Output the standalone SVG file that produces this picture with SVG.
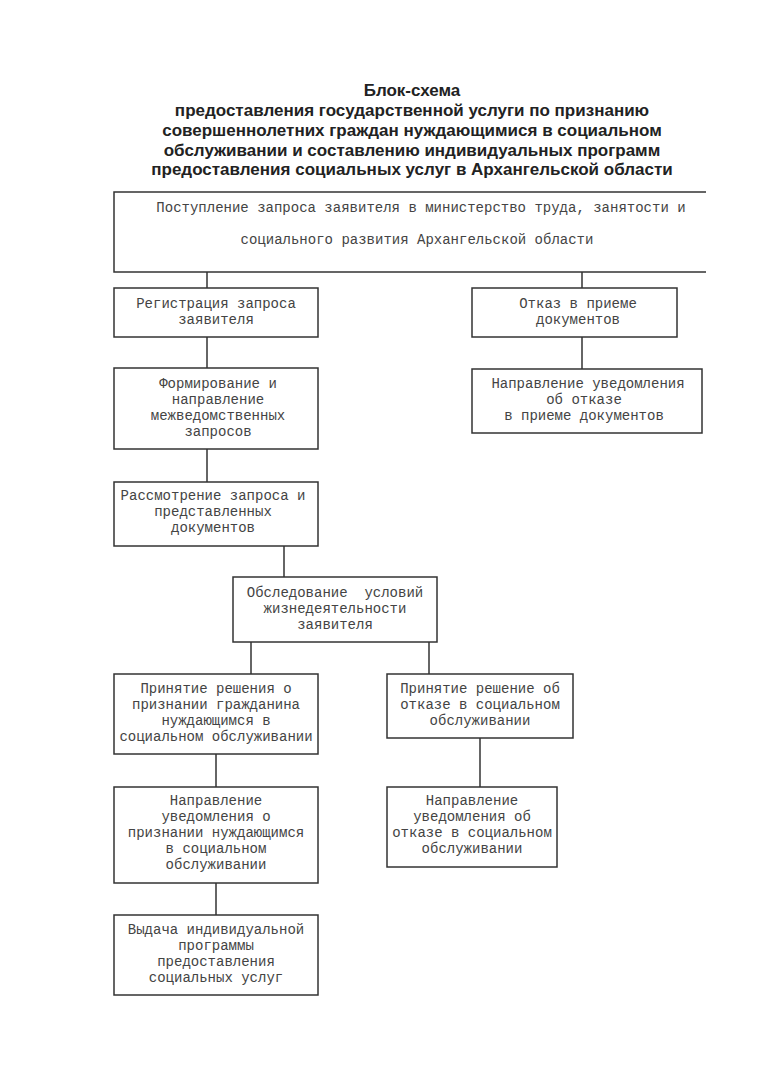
<svg xmlns="http://www.w3.org/2000/svg" width="768" height="1086" viewBox="0 0 768 1086">
<style>
.bg{fill:#ffffff}
.title{font-family:"Liberation Sans",Arial,sans-serif;font-weight:bold;font-size:17px;fill:#222;text-anchor:middle}
.box{fill:none;stroke:#333;stroke-width:1.5}
.t{font-family:"Liberation Mono","Courier New",monospace;font-size:14px;fill:#444;text-anchor:middle;white-space:pre}
.c{fill:none;stroke:#333;stroke-width:1.5}
</style>
<rect class="bg" x="0" y="0" width="768" height="1086"/>
<g id="title">
<text class="title" x="412" y="96">Блок-схема</text>
<text class="title" x="412" y="116">предоставления государственной услуги по признанию</text>
<text class="title" x="412" y="136">совершеннолетних граждан нуждающимися в социальном</text>
<text class="title" x="412" y="156">обслуживании и составлению индивидуальных программ</text>
<text class="title" x="412" y="175">предоставления социальных услуг в Архангельской области</text>
</g>
<g id="connectors">
<path class="c" d="M207,272 V288"/>
<path class="c" d="M582,272 V288"/>
<path class="c" d="M207,337 V368"/>
<path class="c" d="M582,337 V369"/>
<path class="c" d="M207,449 V482"/>
<path class="c" d="M284,546 V577"/>
<path class="c" d="M251,642 V674"/>
<path class="c" d="M429,642 V674"/>
<path class="c" d="M216,754 V787"/>
<path class="c" d="M480,738 V787"/>
<path class="c" d="M216,883 V915"/>
</g>
<g id="n-receipt">
<path class="box" d="M706,192 H114 V272 H706"/>
<text class="t" x="421" y="212">Поступление запроса заявителя в министерство труда, занятости и</text>
<text class="t" x="417" y="244">социального развития Архангельской области</text>
</g>
<g id="n-registration">
<rect class="box" x="114" y="288" width="204" height="49"/>
<text class="t" x="216" y="308">Регистрация запроса</text>
<text class="t" x="216" y="324">заявителя</text>
</g>
<g id="n-refusal">
<rect class="box" x="472" y="288" width="205" height="49"/>
<text class="t" x="578" y="308">Отказ в приеме</text>
<text class="t" x="578" y="324">документов</text>
</g>
<g id="n-forming">
<rect class="box" x="114" y="368" width="204" height="81"/>
<text class="t" x="218" y="388">Формирование и</text>
<text class="t" x="218" y="404">направление</text>
<text class="t" x="218" y="420">межведомственных</text>
<text class="t" x="218" y="436">запросов</text>
</g>
<g id="n-refusal-notice">
<rect class="box" x="472" y="369" width="230" height="64"/>
<text class="t" x="588" y="388">Направление уведомления</text>
<text class="t" x="584" y="404">об отказе</text>
<text class="t" x="584" y="420">в приеме документов</text>
</g>
<g id="n-review">
<rect class="box" x="114" y="482" width="204" height="64"/>
<text class="t" x="213" y="500">Рассмотрение запроса и</text>
<text class="t" x="213" y="516">представленных</text>
<text class="t" x="213" y="532">документов</text>
</g>
<g id="n-survey">
<rect class="box" x="233" y="577" width="204" height="65"/>
<text class="t" x="335" y="597">Обследование  условий</text>
<text class="t" x="335" y="613">жизнедеятельности</text>
<text class="t" x="335" y="629">заявителя</text>
</g>
<g id="n-decision-yes">
<rect class="box" x="114" y="674" width="204" height="80"/>
<text class="t" x="216" y="693">Принятие решения о</text>
<text class="t" x="216" y="709">признании гражданина</text>
<text class="t" x="216" y="725">нуждающимся в</text>
<text class="t" x="216" y="741">социальном обслуживании</text>
</g>
<g id="n-decision-no">
<rect class="box" x="387" y="674" width="186" height="64"/>
<text class="t" x="480" y="693">Принятие решение об</text>
<text class="t" x="480" y="709">отказе в социальном</text>
<text class="t" x="480" y="725">обслуживании</text>
</g>
<g id="n-notice-yes">
<rect class="box" x="114" y="787" width="204" height="96"/>
<text class="t" x="216" y="805">Направление</text>
<text class="t" x="216" y="821">уведомления о</text>
<text class="t" x="216" y="837">признании нуждающимся</text>
<text class="t" x="216" y="853">в социальном</text>
<text class="t" x="216" y="869">обслуживании</text>
</g>
<g id="n-notice-no">
<rect class="box" x="387" y="787" width="170" height="80"/>
<text class="t" x="472" y="805">Направление</text>
<text class="t" x="472" y="821">уведомления об</text>
<text class="t" x="472" y="837">отказе в социальном</text>
<text class="t" x="472" y="853">обслуживании</text>
</g>
<g id="n-program">
<rect class="box" x="114" y="915" width="204" height="80"/>
<text class="t" x="216" y="934">Выдача индивидуальной</text>
<text class="t" x="216" y="950">программы</text>
<text class="t" x="216" y="966">предоставления</text>
<text class="t" x="216" y="982">социальных услуг</text>
</g>
</svg>
